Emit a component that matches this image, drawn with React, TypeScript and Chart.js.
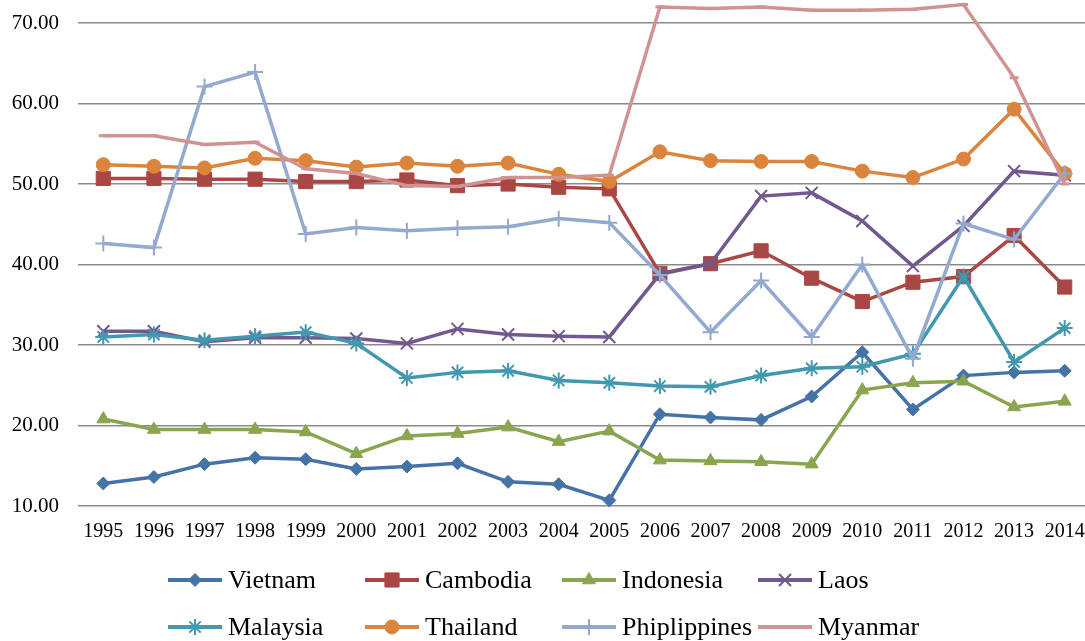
import React, { useEffect, useRef } from 'react';
import { Chart, registerables } from 'chart.js';
import { drawPoint } from 'chart.js/helpers';

Chart.register(...registerables);

const years = ['1995', '1996', '1997', '1998', '1999', '2000', '2001', '2002', '2003', '2004', '2005', '2006', '2007', '2008', '2009', '2010', '2011', '2012', '2013', '2014'];

const vietnam = [12.8, 13.6, 15.2, 16.0, 15.8, 14.6, 14.9, 15.3, 13.0, 12.7, 10.7, 21.4, 21.0, 20.7, 23.6, 29.1, 22.0, 26.2, 26.6, 26.8];
const cambodia = [50.7, 50.7, 50.6, 50.6, 50.3, 50.3, 50.5, 49.8, 50.0, 49.6, 49.4, 38.9, 40.1, 41.7, 38.3, 35.4, 37.8, 38.5, 43.6, 37.2];
const indonesia = [20.8, 19.5, 19.5, 19.5, 19.2, 16.5, 18.7, 19.0, 19.8, 18.0, 19.3, 15.7, 15.6, 15.5, 15.2, 24.4, 25.3, 25.5, 22.3, 23.0];
const laos = [31.7, 31.7, 30.4, 30.9, 30.9, 30.8, 30.2, 32.0, 31.3, 31.1, 31.0, 38.8, 40.1, 48.5, 48.9, 45.4, 39.8, 44.8, 51.6, 51.1];
const malaysia = [31.0, 31.3, 30.6, 31.1, 31.6, 30.2, 25.9, 26.6, 26.8, 25.6, 25.3, 24.9, 24.8, 26.2, 27.1, 27.3, 28.9, 38.5, 27.9, 32.1];
const thailand = [52.4, 52.2, 52.0, 53.2, 52.9, 52.1, 52.6, 52.2, 52.6, 51.2, 50.3, 54.0, 52.9, 52.8, 52.8, 51.6, 50.8, 53.1, 59.3, 51.3];
const philippines = [42.6, 42.1, 62.1, 63.9, 43.8, 44.6, 44.2, 44.5, 44.7, 45.7, 45.2, 38.7, 31.6, 38.0, 31.0, 40.0, 28.3, 45.1, 43.1, 51.3];
const myanmar = [56.0, 56.0, 54.9, 55.2, 51.9, 51.3, 49.8, 49.7, 50.8, 50.8, 51.1, 72.0, 71.8, 72.0, 71.6, 71.6, 71.7, 72.3, 63.2, 50.0];

const seriesNames = ['Vietnam', 'Cambodia', 'Indonesia', 'Laos', 'Malaysia', 'Thailand', 'Phiplippines', 'Myanmar'];
const seriesValues = [vietnam, cambodia, indonesia, laos, malaysia, thailand, philippines, myanmar];
const seriesColors = ['#4572A7', '#AA4643', '#89A54E', '#71588F', '#4198AF', '#DB843D', '#93A9CF', '#D19392'];
const seriesMarkers = ['rectRot', 'rect', 'triangle', 'crossRot', 'star', 'circle', 'cross', 'line'];
const seriesMarkerRadius = [6.5, 10, 7.5, 8.5, 8, 7, 8, 4.5];
const seriesMarkerBorder = [1, 1, 1, 2, 2, 1, 2, 3];

const yTicks = [10, 20, 30, 40, 50, 60, 70];
const yMin = 10;
const yMax = 72.86;

const legendCols = [228, 425, 622, 818];
const legendRows = [580, 627];

const gridLegend = {
  id: 'gridLegend',
  afterDraw(chart: any) {
    const ctx = chart.ctx;
    chart.data.datasets.forEach((ds: any, i: number) => {
      const tx = legendCols[i % 4];
      const y = legendRows[Math.floor(i / 4)];
      ctx.save();
      ctx.strokeStyle = ds.borderColor;
      ctx.lineWidth = 4;
      ctx.lineCap = 'butt';
      ctx.beginPath();
      ctx.moveTo(tx - 60, y);
      ctx.lineTo(tx - 6, y);
      ctx.stroke();
      ctx.fillStyle = ds.pointBackgroundColor;
      ctx.strokeStyle = ds.pointBorderColor;
      ctx.lineWidth = ds.pointBorderWidth;
      drawPoint(ctx, { pointStyle: ds.pointStyle, rotation: 0, radius: ds.pointRadius, borderWidth: ds.pointBorderWidth } as any, tx - 33, y);
      ctx.fillStyle = '#000';
      ctx.font = '26px "Liberation Serif", "Times New Roman", serif';
      ctx.textBaseline = 'middle';
      ctx.textAlign = 'left';
      ctx.fillText(ds.label, tx, y + 1);
      ctx.restore();
    });
  },
};

export default function App() {
  const canvasRef = useRef<HTMLCanvasElement | null>(null);

  useEffect(() => {
    if (!canvasRef.current) return;
    const datasets = seriesNames.map((name, i) => ({
      label: name,
      data: seriesValues[i],
      borderColor: seriesColors[i],
      backgroundColor: seriesColors[i],
      borderWidth: 3.5,
      pointStyle: seriesMarkers[i],
      pointRadius: seriesMarkerRadius[i],
      pointBackgroundColor: seriesColors[i],
      pointBorderColor: seriesColors[i],
      pointBorderWidth: seriesMarkerBorder[i],
      tension: 0,
      clip: 12,
      order: seriesNames.length - i,
    }));
    const chart = new Chart(canvasRef.current, {
      type: 'line',
      data: { labels: years, datasets },
      plugins: [gridLegend],
      options: {
        animation: false,
        responsive: true,
        maintainAspectRatio: false,
        layout: { padding: 0, autoPadding: false },
        plugins: { legend: { display: false }, tooltip: { enabled: false } },
        scales: {
          x: {
            offset: true,
            grid: { display: false, drawTicks: false },
            border: { display: false },
            ticks: {
              color: '#000',
              padding: 14,
              maxRotation: 0,
              autoSkip: false,
              font: { family: '"Liberation Serif", "Times New Roman", serif', size: 20 },
            },
            afterFit: (s: any) => {
              s.height = 135;
              s.paddingLeft = 0;
              s.paddingRight = 0;
              s.paddingTop = 0;
              s.paddingBottom = 0;
            },
          },
          y: {
            min: yMin,
            max: yMax,
            grid: { color: '#8a8a8a', lineWidth: 1.5, drawTicks: false },
            border: { display: false },
            ticks: {
              color: '#000',
              padding: 19,
              font: { family: '"Liberation Serif", "Times New Roman", serif', size: 21 },
              callback: (v: any) => Number(v).toFixed(2),
            },
            afterBuildTicks: (s: any) => { s.ticks = yTicks.map((v) => ({ value: v })); },
            afterFit: (s: any) => {
              s.width = 78;
              s.paddingTop = 0;
              s.paddingBottom = 0;
              s.paddingLeft = 0;
              s.paddingRight = 0;
            },
          },
        },
      },
    });
    return () => chart.destroy();
  }, []);

  return (
    <div style={{ position: 'fixed', left: 0, top: 0, width: 1085, height: 641, overflow: 'hidden', background: '#fff' }}>
      <div style={{ position: 'relative', width: 1090, height: 641 }}>
        <canvas ref={canvasRef} />
      </div>
    </div>
  );
}
